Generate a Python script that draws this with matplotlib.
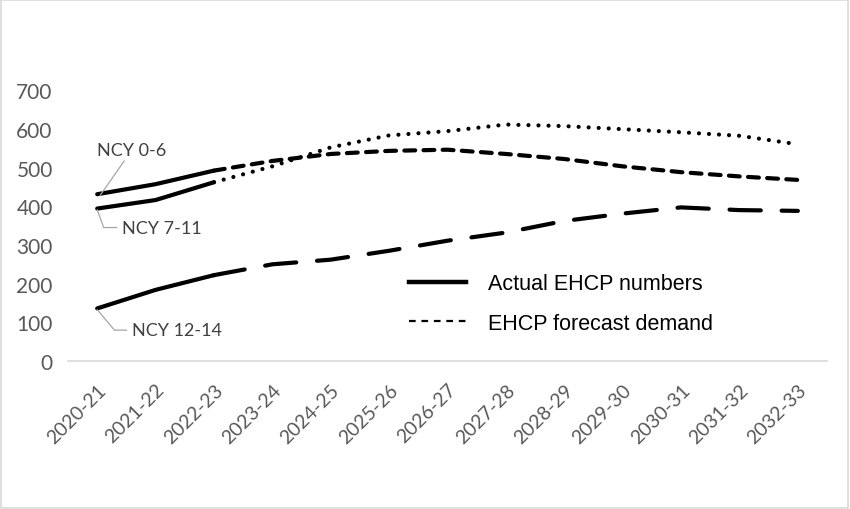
import matplotlib
matplotlib.use("Agg")
import matplotlib.pyplot as plt
from matplotlib.lines import Line2D
from matplotlib.patches import Rectangle

years = ["2020-21", "2021-22", "2022-23", "2023-24", "2024-25", "2025-26", "2026-27",
         "2027-28", "2028-29", "2029-30", "2030-31", "2031-32", "2032-33"]

# actual EHCP numbers (2020-21 .. 2022-23)
ncy_0_6_actual = [431, 457, 492]
ncy_7_11_actual = [394, 416, 462]
ncy_12_14_actual = [136, 184, 222]

# forecast demand (2022-23 .. 2032-33)
ncy_0_6_forecast = [492, 517, 535, 543, 546, 535, 522, 503, 488, 477, 468]
ncy_7_11_forecast = [462, 503, 552, 583, 594, 611, 607, 599, 591, 582, 560]
ncy_12_14_forecast = [222, 250, 262, 285, 311, 332, 362, 381, 397, 390, 388]

series_names = ["NCY 0-6", "NCY 7-11", "NCY 12-14"]
legend_labels = ["Actual EHCP numbers", "EHCP forecast demand"]

fig = plt.figure(figsize=(8.5, 5.1), dpi=100)
ax = fig.add_axes([0.08, 0.29, 0.893, 0.5314])

xa = list(range(len(ncy_0_6_actual)))
xf = list(range(2, 2 + len(ncy_0_6_forecast)))

lw = 3.0
for ys in (ncy_0_6_actual, ncy_7_11_actual, ncy_12_14_actual):
    ax.plot(xa, ys, color="black", lw=lw, solid_capstyle="round")

l1, = ax.plot(xf, ncy_0_6_forecast, color="black", lw=lw, dash_capstyle="round")
l1.set_dashes([2.6, 2.0])
l2, = ax.plot(xf, ncy_7_11_forecast, color="black", lw=3.0, dash_capstyle="round")
l2.set_dashes([0.01, 2.4])
l3, = ax.plot(xf, ncy_12_14_forecast, color="black", lw=lw, dash_capstyle="round")
l3.set_dashes([7.5, 5.0])

ax.set_xlim(-0.5, len(years) - 0.5)
ax.set_ylim(0, 700)
ax.set_xticks(range(len(years)))
ax.set_xticklabels(years, rotation=45, ha="right", rotation_mode="anchor",
                   fontsize=14, color="#595959", family="Lato")
ax.set_yticks(range(0, 701, 100))
ax.set_yticklabels([str(v) for v in range(0, 701, 100)], fontsize=15,
                   color="#595959", family="Lato")
ax.tick_params(axis="both", length=0)
ax.tick_params(axis="y", pad=11)
ax.tick_params(axis="x", pad=14)
for s in ("top", "right", "left"):
    ax.spines[s].set_visible(False)
ax.spines["bottom"].set_color("#D9D9D9")
ax.spines["bottom"].set_linewidth(1.2)

# annotations with leader lines
lead = dict(color="#A6A6A6", lw=0.9)
fs_ann = 13
ax.annotate(series_names[0], xy=(0.05, ncy_0_6_actual[0] - 3), xytext=(0.0, 545),
            fontsize=fs_ann, family="Lato", color="#404040", va="center", ha="left",
            arrowprops=dict(arrowstyle="-", shrinkA=0, shrinkB=0, **lead),
            annotation_clip=False)
ax.annotate(series_names[1], xy=(0.0, ncy_7_11_actual[0] - 3), xytext=(0.43, 345),
            fontsize=fs_ann, family="Lato", color="#404040", va="center", ha="left",
            arrowprops=dict(arrowstyle="-", shrinkA=2, shrinkB=0,
                            connectionstyle="angle,angleA=0,angleB=-70,rad=0", **lead))
ax.annotate(series_names[2], xy=(0.0, ncy_12_14_actual[0] - 3), xytext=(0.6, 80),
            fontsize=fs_ann, family="Lato", color="#404040", va="center", ha="left",
            arrowprops=dict(arrowstyle="-", shrinkA=2, shrinkB=0,
                            connectionstyle="angle,angleA=0,angleB=-50,rad=0", **lead))

handles = [Line2D([], [], color="black", lw=3.2),
           Line2D([], [], color="black", lw=1.6, dashes=[3.0, 2.6])]
leg = fig.legend(handles, legend_labels, loc="upper left", bbox_to_anchor=(0.458, 0.50),
                 frameon=False, handlelength=2.65, handletextpad=1.05, labelspacing=0.85,
                 prop=dict(family="Liberation Sans", size=15.5))

fig.add_artist(Rectangle((0.001, 0.001), 0.997, 0.997, transform=fig.transFigure,
                         fill=False, edgecolor="#D9D9D9", lw=1.2))

fig.savefig("out.png", dpi=100, facecolor="white")
